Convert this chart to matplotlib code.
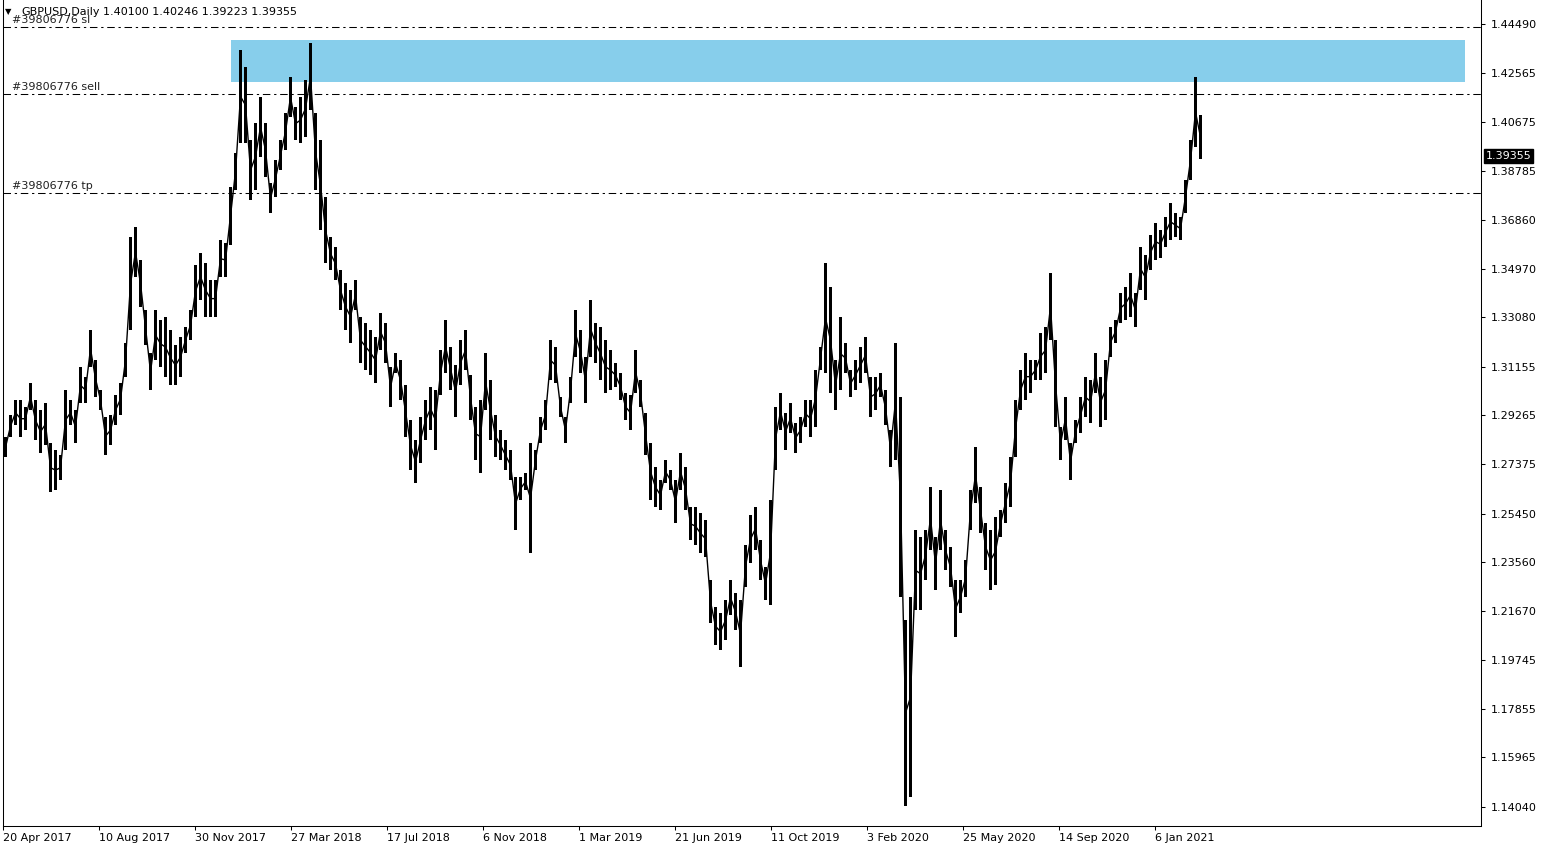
import numpy as np
import matplotlib.pyplot as plt
from matplotlib.patches import Rectangle

# GBPUSD daily in 5-bar groups (high / low of each group)
bar_high = [
    1.2842, 1.2928, 1.2986, 1.2986, 1.2959, 1.3052, 1.2986, 1.2947, 1.2974, 1.2819,
    1.2792, 1.2772, 1.3025, 1.2986, 1.2947, 1.3114, 1.3076, 1.3258, 1.3142, 1.3025,
    1.2920, 1.2928, 1.3005, 1.3052, 1.3208, 1.3620, 1.3659, 1.3531, 1.3336, 1.3169,
    1.3336, 1.3297, 1.3309, 1.3258, 1.3200, 1.3231, 1.3270, 1.3336, 1.3511, 1.3558,
    1.3519, 1.3453, 1.3453, 1.3608, 1.3597, 1.3815, 1.3947, 1.4348, 1.4281, 1.3997,
    1.4064, 1.4165, 1.4064, 1.3830, 1.3920, 1.3997, 1.4102, 1.4242, 1.4126, 1.4165,
    1.4231, 1.4375, 1.4102, 1.3997, 1.3776, 1.3620, 1.3581, 1.3492, 1.3441, 1.3414,
    1.3453, 1.3309, 1.3286, 1.3258, 1.3231, 1.3324, 1.3286, 1.3114, 1.3169, 1.3142,
    1.3044, 1.2908, 1.2830, 1.2920, 1.2986, 1.3037, 1.3025, 1.3181, 1.3297, 1.3192,
    1.3122, 1.3219, 1.3258, 1.3083, 1.2959, 1.2986, 1.3169, 1.3064, 1.2928, 1.2869,
    1.2830, 1.2792, 1.2687, 1.2687, 1.2702, 1.2819, 1.2792, 1.2920, 1.2986, 1.3219,
    1.3192, 1.2998, 1.2920, 1.3076, 1.3336, 1.3258, 1.3153, 1.3375, 1.3286, 1.3270,
    1.3219, 1.3181, 1.3130, 1.3091, 1.3013, 1.3005, 1.3181, 1.3064, 1.2935, 1.2819,
    1.2725, 1.2675, 1.2753, 1.2714, 1.2675, 1.2780, 1.2725, 1.2570, 1.2570, 1.2546,
    1.2519, 1.2286, 1.2181, 1.2157, 1.2208, 1.2286, 1.2235, 1.2208, 1.2422, 1.2539,
    1.2570, 1.2441, 1.2336, 1.2597, 1.2959, 1.3013, 1.2935, 1.2974, 1.2897, 1.2920,
    1.2986, 1.2986, 1.3103, 1.3192, 1.3519, 1.3426, 1.3142, 1.3309, 1.3208, 1.3103,
    1.3142, 1.3192, 1.3231, 1.3076, 1.3076, 1.3091, 1.3025, 1.2869, 1.3208, 1.2998,
    1.2130, 1.2220, 1.2480, 1.2453, 1.2480, 1.2648, 1.2453, 1.2636, 1.2480, 1.2414,
    1.2286, 1.2286, 1.2364, 1.2636, 1.2803, 1.2648, 1.2508, 1.2480, 1.2531, 1.2558,
    1.2663, 1.2764, 1.2986, 1.3103, 1.3169, 1.3142, 1.3142, 1.3247, 1.3270, 1.3480,
    1.3219, 1.2881, 1.2998, 1.2819, 1.2908, 1.2998, 1.3076, 1.3064, 1.3169, 1.3076,
    1.3142, 1.3270, 1.3297, 1.3402, 1.3426, 1.3480, 1.3402, 1.3581, 1.3550, 1.3628,
    1.3675, 1.3647, 1.3698, 1.3752, 1.3713, 1.3698, 1.3842, 1.3997, 1.4242, 1.4095,
]
bar_low = [
    1.2764, 1.2842, 1.2889, 1.2842, 1.2869, 1.2947, 1.2830, 1.2780, 1.2811, 1.2628,
    1.2636, 1.2675, 1.2792, 1.2889, 1.2819, 1.2974, 1.2974, 1.3114, 1.2998, 1.2947,
    1.2772, 1.2811, 1.2889, 1.2928, 1.3076, 1.3258, 1.3465, 1.3348, 1.3200, 1.3025,
    1.3142, 1.3114, 1.3076, 1.3044, 1.3044, 1.3076, 1.3169, 1.3219, 1.3309, 1.3375,
    1.3309, 1.3309, 1.3309, 1.3465, 1.3465, 1.3589, 1.3803, 1.3986, 1.3986, 1.3764,
    1.3803, 1.3931, 1.3854, 1.3713, 1.3776, 1.3881, 1.3959, 1.4087, 1.3997, 1.3986,
    1.4009, 1.4114, 1.3803, 1.3647, 1.3519, 1.3492, 1.3453, 1.3336, 1.3258, 1.3208,
    1.3336, 1.3130, 1.3103, 1.3083, 1.3052, 1.3181, 1.3130, 1.2959, 1.3091, 1.2986,
    1.2842, 1.2714, 1.2663, 1.2741, 1.2830, 1.2869, 1.2792, 1.3005, 1.3091, 1.3025,
    1.2920, 1.3044, 1.3103, 1.2908, 1.2753, 1.2702, 1.2947, 1.2830, 1.2764, 1.2753,
    1.2714, 1.2675, 1.2480, 1.2597, 1.2636, 1.2391, 1.2714, 1.2819, 1.2869, 1.3064,
    1.3052, 1.2920, 1.2819, 1.2974, 1.3153, 1.3091, 1.2974, 1.3153, 1.3130, 1.3064,
    1.3013, 1.3025, 1.3037, 1.2986, 1.2908, 1.2869, 1.3013, 1.2959, 1.2772, 1.2597,
    1.2570, 1.2558, 1.2663, 1.2636, 1.2508, 1.2636, 1.2558, 1.2441, 1.2422, 1.2391,
    1.2375, 1.2119, 1.2033, 1.2014, 1.2052, 1.2150, 1.2091, 1.1947, 1.2259, 1.2352,
    1.2403, 1.2286, 1.2208, 1.2189, 1.2714, 1.2869, 1.2792, 1.2858, 1.2780, 1.2819,
    1.2881, 1.2842, 1.2881, 1.3103, 1.3091, 1.3013, 1.2947, 1.3025, 1.3091, 1.2998,
    1.3025, 1.3052, 1.3091, 1.2920, 1.2947, 1.2998, 1.2889, 1.2725, 1.2753, 1.2220,
    1.1409, 1.1442, 1.2169, 1.2169, 1.2286, 1.2403, 1.2247, 1.2403, 1.2325, 1.2259,
    1.2064, 1.2157, 1.2220, 1.2480, 1.2585, 1.2469, 1.2325, 1.2247, 1.2266, 1.2453,
    1.2508, 1.2570, 1.2764, 1.2947, 1.2986, 1.3013, 1.3064, 1.3064, 1.3091, 1.3219,
    1.2881, 1.2753, 1.2830, 1.2675, 1.2819, 1.2858, 1.2920, 1.2897, 1.3013, 1.2881,
    1.2908, 1.3153, 1.3208, 1.3286, 1.3297, 1.3309, 1.3270, 1.3414, 1.3375, 1.3492,
    1.3531, 1.3538, 1.3581, 1.3608, 1.3620, 1.3608, 1.3713, 1.3842, 1.3970, 1.3924,
]
group_len = 5  # bars per group

last_bar = [1.40100, 1.40246, 1.39223, 1.39355]  # open high low close

price_ticks = [1.44490, 1.42565, 1.40675, 1.38785, 1.36860, 1.34970, 1.33080,
               1.31155, 1.29265, 1.27375, 1.25450, 1.23560, 1.21670, 1.19745,
               1.17855, 1.15965, 1.14040]
date_labels = ['20 Apr 2017', '10 Aug 2017', '30 Nov 2017', '27 Mar 2018',
               '17 Jul 2018', '6 Nov 2018', '1 Mar 2019', '21 Jun 2019',
               '11 Oct 2019', '3 Feb 2020', '25 May 2020', '14 Sep 2020',
               '6 Jan 2021']
date_step = 96

order_id = '#39806776'
levels = {'sl': 1.4437, 'sell': 1.4177, 'tp': 1.3792}
zone_bars = (228, 1462)
zone_prices = (1.4223, 1.4387)

W, H = 1546, 850
fig = plt.figure(figsize=(W / 100, H / 100), dpi=100)
ax = fig.add_axes([3 / W, 24 / H, 1478 / W, 826 / H])

hi = np.array(bar_high)
lo = np.array(bar_low)
x = np.arange(len(hi)) * group_len + group_len / 2

# supply zone
ax.add_patch(Rectangle((zone_bars[0], zone_prices[0]), zone_bars[1] - zone_bars[0],
                       zone_prices[1] - zone_prices[0], facecolor='#87CEEB',
                       edgecolor='none', zorder=1))

ax.bar(x, hi - lo, bottom=lo, width=3.2, align='center', color='black',
       linewidth=0, zorder=3)
# thin line through the group mid prices so the series reads as one trace
ax.plot(x, (hi + lo) / 2, color='black', lw=1.0, zorder=3)

dashdot = (0, (7.2, 3.6, 2.2, 3.6))
for name, lvl in levels.items():
    ax.axhline(lvl, color='black', lw=0.75, ls=dashdot, zorder=2)
    ax.annotate(order_id + ' ' + name, xy=(0, lvl), xycoords=('axes fraction', 'data'),
                xytext=(9, 7), textcoords='offset pixels', va='center', ha='left',
                fontsize=8, color='#202020', zorder=4)

ax.set_xlim(0, 1478)
ax.set_ylim(1.13301, 1.45423)

ax.yaxis.tick_right()
ax.set_yticks(price_ticks)
ax.set_yticklabels([f'{p:.5f}' for p in price_ticks])
ax.set_xticks(np.arange(len(date_labels)) * date_step)
ax.set_xticklabels(date_labels)
for lbl in ax.get_xticklabels():
    lbl.set_ha('left')
ax.tick_params(axis='both', direction='out', length=3, width=0.75, labelsize=8,
               colors='black')
ax.tick_params(axis='y', pad=4)
ax.tick_params(axis='x', pad=2)

for s in ['left', 'bottom', 'right']:
    ax.spines[s].set_linewidth(0.75)
    ax.spines[s].set_color('black')
ax.spines['top'].set_visible(False)

# current price marker
ax.annotate(f'{last_bar[3]:.5f}', xy=(1, last_bar[3]), xycoords=('axes fraction', 'data'),
            xytext=(5, 0), textcoords='offset pixels', va='center', ha='left',
            fontsize=8, color='white', annotation_clip=False,
            bbox=dict(boxstyle='square,pad=0.15', fc='black', ec='black'))

# header
fig.text(5 / W, 1 - 12 / H, '▼', fontsize=6, va='center', ha='left')
fig.text(21 / W, 1 - 12 / H, 'GBPUSD,Daily', fontsize=8, va='center', ha='left')
fig.text(103 / W, 1 - 12 / H, ' '.join(f'{v:.5f}' for v in last_bar),
         fontsize=8, va='center', ha='left')

fig.savefig('out.png', dpi=100)
